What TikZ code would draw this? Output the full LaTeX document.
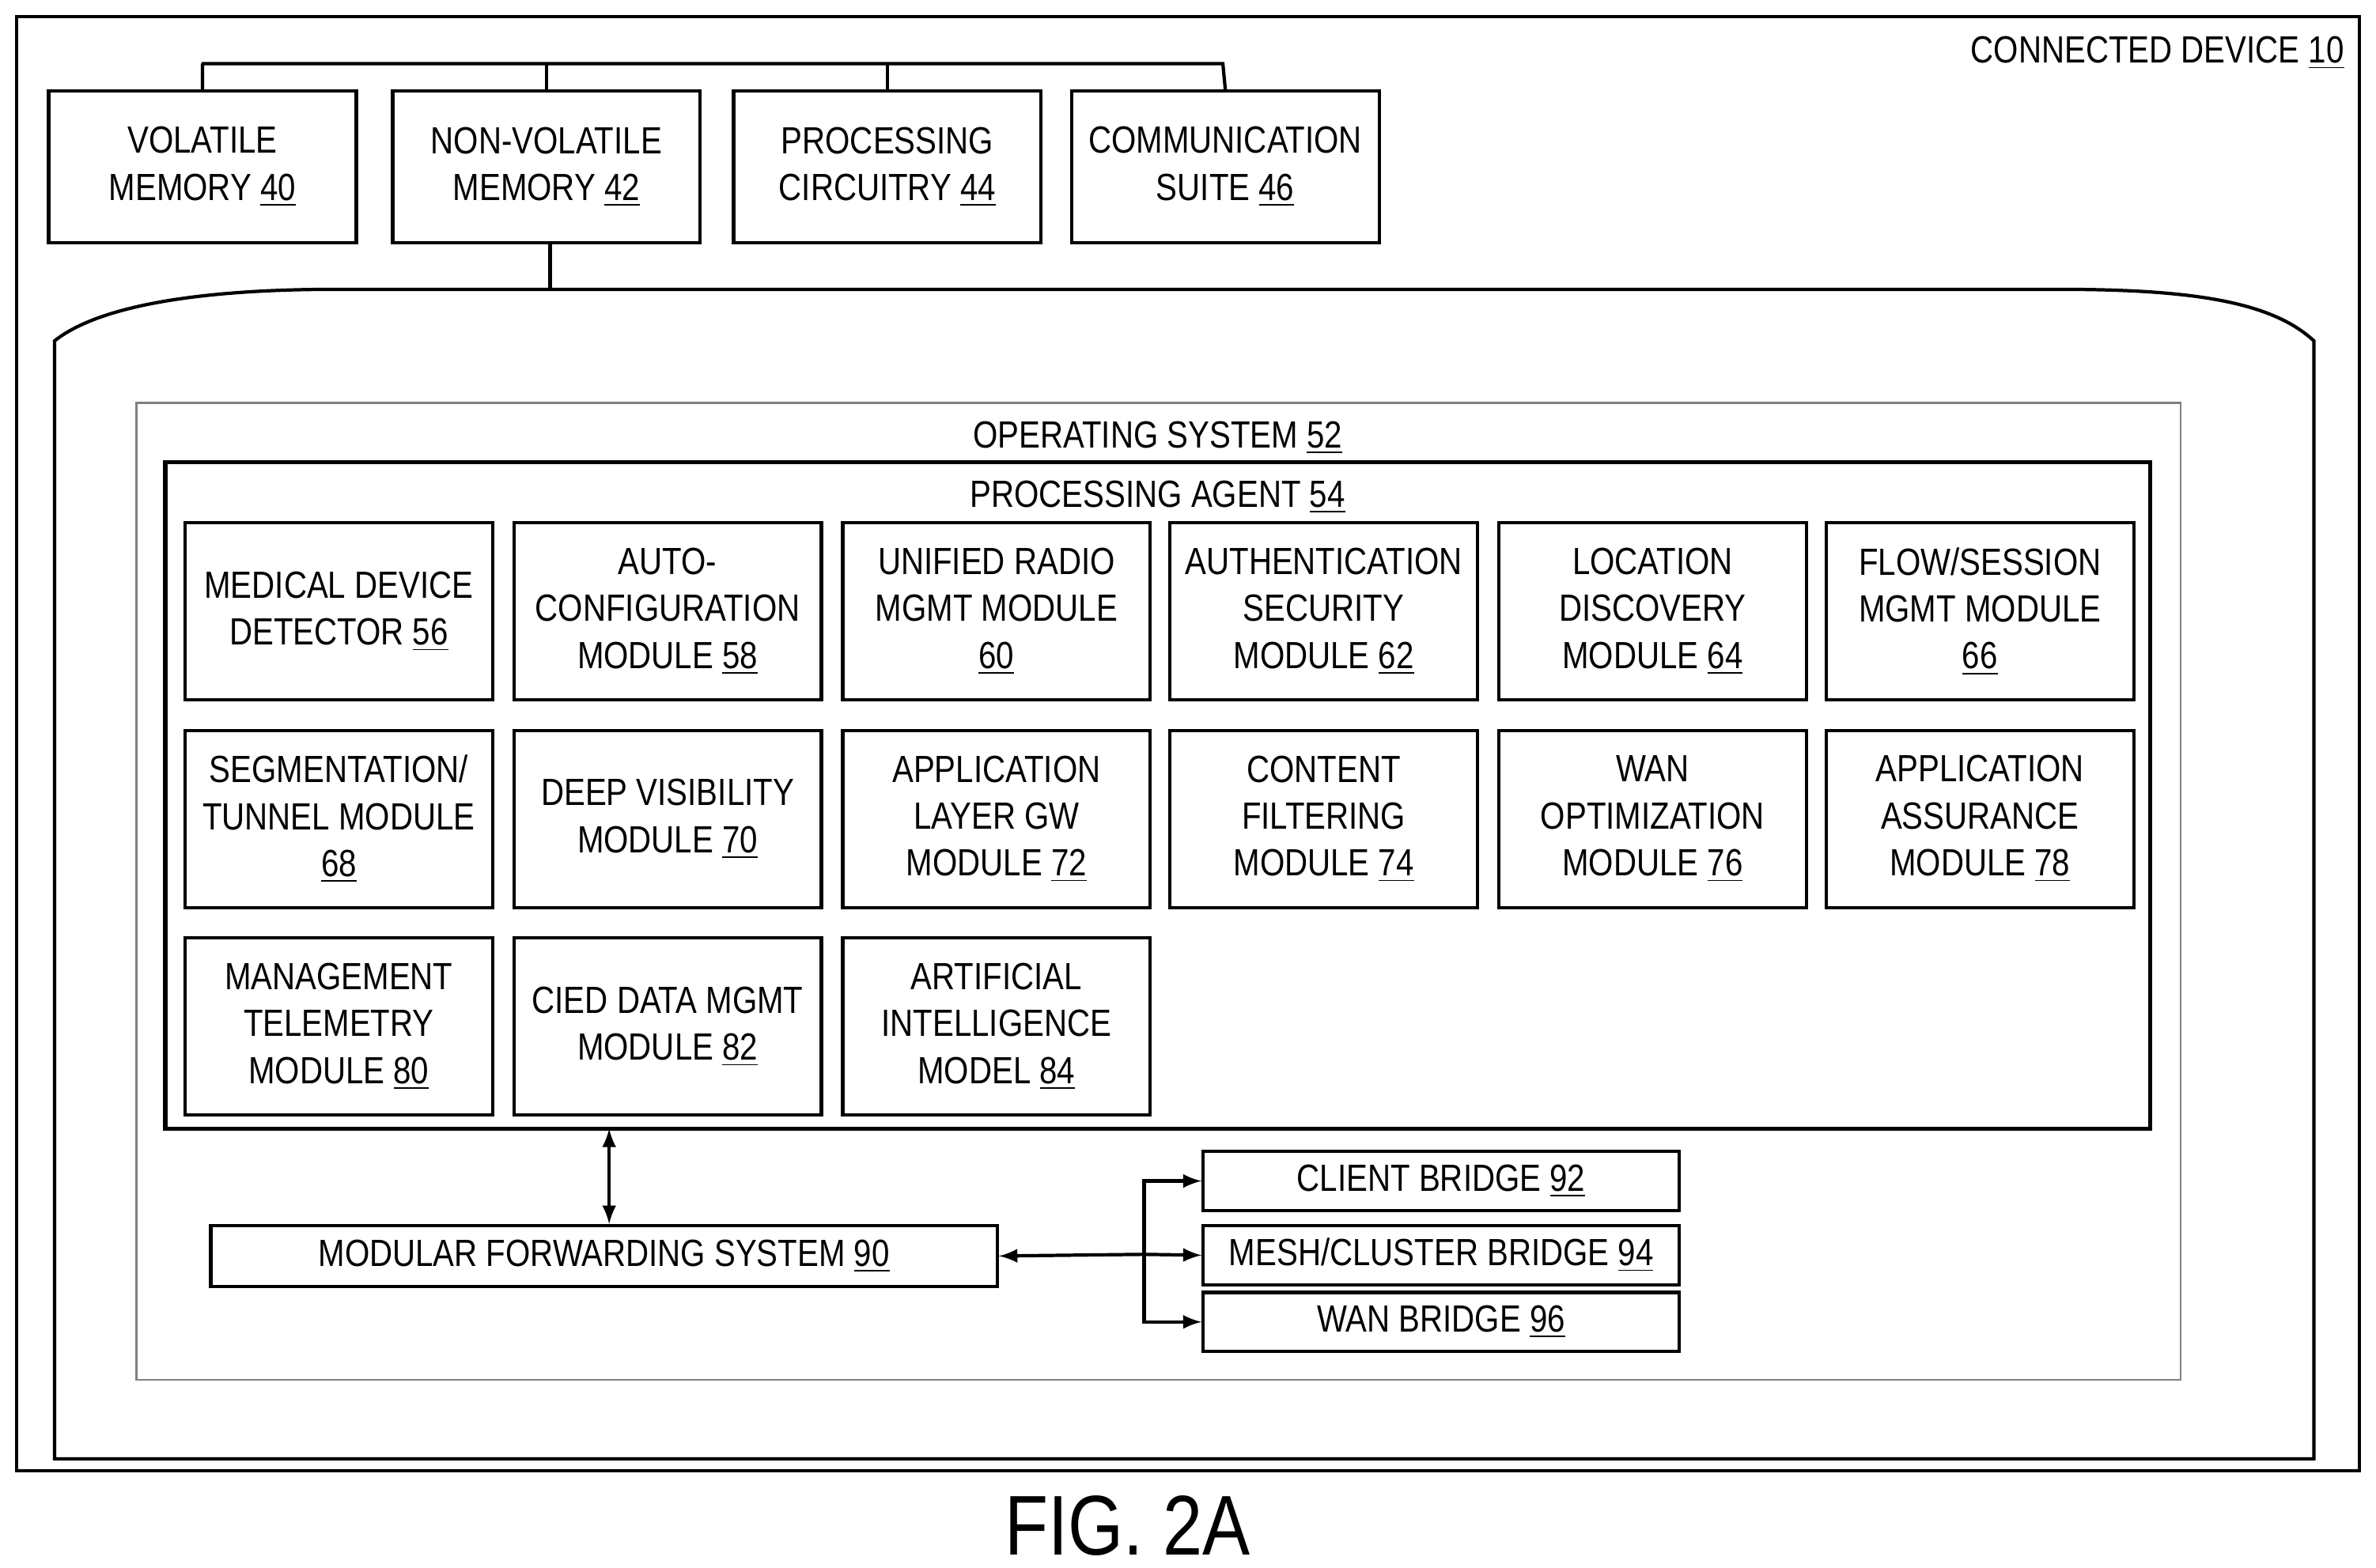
\documentclass[tikz,border=0pt]{standalone}
\usepackage{fontspec}
\setmainfont{Liberation Sans}[FakeStretch=0.84]
\newcommand\un[1]{\underline{#1}}
\begin{document}
\begin{tikzpicture}[x=0.5pt,y=-0.5pt,line width=1.1pt,
  box/.style={draw,minimum width=203*0.5pt,minimum height=117*0.5pt,anchor=north west,inner sep=0pt,align=center,font=\fontsize{12.5}{15.5}\selectfont},
  tbox/.style={draw,minimum width=203*0.5pt,minimum height=100*0.5pt,anchor=north west,inner sep=0pt,align=center,font=\fontsize{12.5}{15.5}\selectfont},
  bbox/.style={draw,minimum width=314*0.5pt,minimum height=39*0.5pt,anchor=north west,inner sep=0pt,font=\fontsize{12.5}{15.5}\selectfont},
  lbl/.style={font=\fontsize{12.5}{15.5}\selectfont,inner sep=0pt},
  arr/.style={-latex}, darr/.style={latex-latex}]
\useasboundingbox (0,0) rectangle (1568,1035);
\draw (11,11) rectangle (1557,971);
\node[lbl,anchor=east] (cd) at (1548,35) {CONNECTED DEVICE \un{10}};
\node[tbox] (v) at (31,59) {VOLATILE\\MEMORY \un{40}};
\node[tbox] (nv) at (258,59) {NON-VOLATILE\\MEMORY \un{42}};
\node[tbox] (pc) at (483,59) {PROCESSING\\CIRCUITRY \un{44}};
\node[tbox] (cs) at (706,59) {COMMUNICATION\\SUITE \un{46}};
\coordinate (b1) at (133,42); \coordinate (b4) at (807,42);
\draw (v.north) |- (b1) -- (b4) -- (cs.north);
\draw (nv.north) -- (nv.north|-b1);
\draw (pc.north) -- (pc.north|-b1);
\draw (36,963) -- (36,225) .. controls (70,198) and (150,191) .. (220,191) -- (1360,191) .. controls (1450,191) and (1500,200) .. (1527,225) -- (1527,963) -- cycle;
\coordinate (mt) at (363,191);
\draw (363,159) -- (mt);
\draw[line width=0.6pt,gray] (90,266) rectangle (1439,911);
\node[lbl] (os) at (764,289) {OPERATING SYSTEM \un{52}};
\draw[line width=1.4pt] (109,305) rectangle (1419,745);
\coordinate (pab) at (402,745);
\node[lbl] (pa) at (764,328) {PROCESSING AGENT \un{54}};
\node[box] (m56) at (121,344) {MEDICAL DEVICE\\DETECTOR \un{56}};
\node[box] (m58) at (338,344) {AUTO-\\CONFIGURATION\\MODULE \un{58}};
\node[box] (m60) at (555,344) {UNIFIED RADIO\\MGMT MODULE\\\un{60}};
\node[box] (m62) at (771,344) {AUTHENTICATION\\SECURITY\\MODULE \un{62}};
\node[box] (m64) at (988,344) {LOCATION\\DISCOVERY\\MODULE \un{64}};
\node[box] (m66) at (1204,344) {FLOW/SESSION\\MGMT MODULE\\\un{66}};
\node[box] (m68) at (121,481) {SEGMENTATION/\\TUNNEL MODULE\\\un{68}};
\node[box] (m70) at (338,481) {DEEP VISIBILITY\\MODULE \un{70}};
\node[box] (m72) at (555,481) {APPLICATION\\LAYER GW\\MODULE \un{72}};
\node[box] (m74) at (771,481) {CONTENT\\FILTERING\\MODULE \un{74}};
\node[box] (m76) at (988,481) {WAN\\OPTIMIZATION\\MODULE \un{76}};
\node[box] (m78) at (1204,481) {APPLICATION\\ASSURANCE\\MODULE \un{78}};
\node[box] (m80) at (121,618) {MANAGEMENT\\TELEMETRY\\MODULE \un{80}};
\node[box] (m82) at (338,618) {CIED DATA MGMT\\MODULE \un{82}};
\node[box] (m84) at (555,618) {ARTIFICIAL\\INTELLIGENCE\\MODEL \un{84}};
\node[draw,minimum width=519*0.5pt,minimum height=40*0.5pt,anchor=north west,inner sep=0pt,font=\fontsize{12.5}{15.5}\selectfont] (mfs) at (138,808) {MODULAR FORWARDING SYSTEM \un{90}};
\draw[darr] (pab) -- (402,808);
\node[bbox] (b92) at (793,759) {CLIENT BRIDGE \un{92}};
\node[bbox] (b94) at (793,808) {MESH/CLUSTER BRIDGE \un{94}};
\node[bbox] (b96) at (793,852) {WAN BRIDGE \un{96}};
\coordinate (j) at (755,828);
\draw[darr] (mfs.east) -- (j) -- (b94.west);
\draw[arr] (j) |- (b92.west);
\draw[arr] (j) |- (b96.west);
\node[font=\fontsize{28}{32}\selectfont,inner sep=0pt] (fig) at (744,1007) {FIG. 2A};
\end{tikzpicture}
\end{document}
